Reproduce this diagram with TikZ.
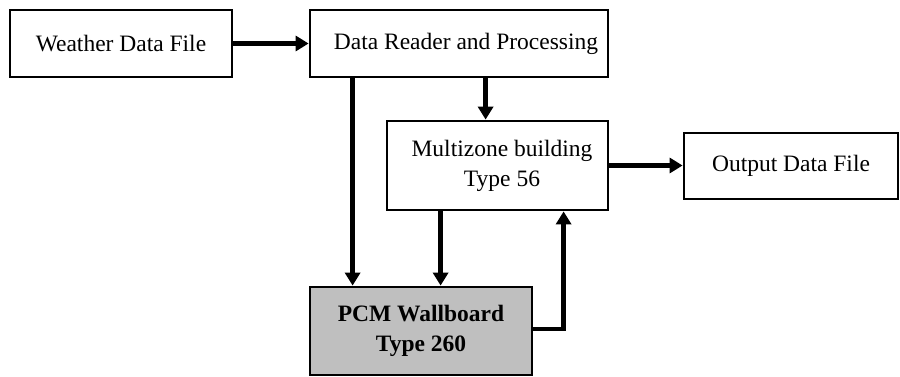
\documentclass[tikz,border=0pt]{standalone}
\usepackage{fontspec}
\setmainfont{Liberation Serif}
\usetikzlibrary{arrows.meta}
\begin{document}
\begin{tikzpicture}[x=1pt,y=-1pt,
  blk/.style={draw=black,line width=2.8pt,inner sep=0pt,align=center,
    font=\fontsize{23.5}{30}\selectfont},
  conn/.style={line width=4.8pt,-{Triangle[length=13pt,width=15pt]}}]
\useasboundingbox (0,0) rectangle (900,377);
\node[blk,minimum width=222pt,minimum height=67pt] (w) at (121,43.5) {Weather Data File};
\node[blk,minimum width=298pt,minimum height=67pt] (d) at (459,43.5) {\hspace{14pt}Data Reader and Processing};
\node[blk,minimum width=221pt,minimum height=89pt] (m) at (497.5,165.5) {\hspace{9pt}Multizone building\\\hspace{9pt}Type 56};
\node[blk,minimum width=214pt,minimum height=66pt] (o) at (791,166) {Output Data File};
\node[blk,fill=black!25,minimum width=222pt,minimum height=88pt,font=\fontsize{23.5}{30}\selectfont\bfseries] (p) at (421,331) {PCM Wallboard\\Type 260};
\draw[conn] (w.east) -- (d.west);
\draw[conn] ([xshift=177pt]d.south west) -- ([xshift=100pt]m.north west);
\draw[conn] ([xshift=44pt]d.south west) -- ([xshift=44pt]p.north west);
\draw[conn] ([xshift=55pt]m.south west) -- ([xshift=132pt]p.north west);
\draw[conn] ([yshift=2pt]p.east) -| ([xshift=178pt]m.south west);
\draw[conn] (m.east) -- (m.east -| o.west);
\end{tikzpicture}
\end{document}
